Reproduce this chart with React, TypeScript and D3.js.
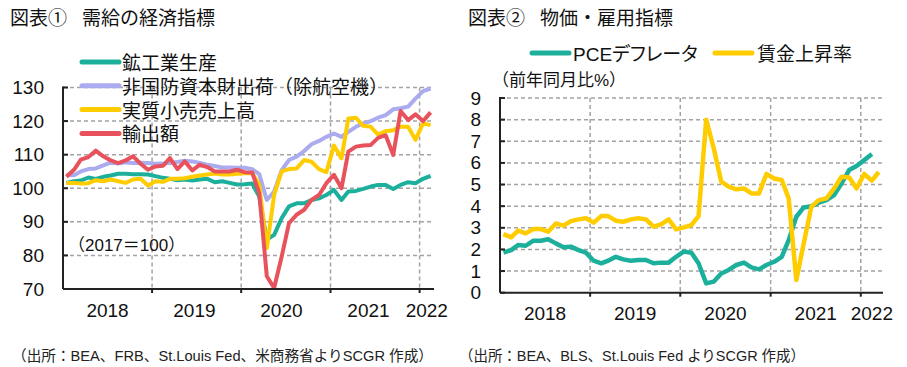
import * as d3 from 'd3'

// monthly series, Jan 2018 onwards
const industrialProduction = [
  101.6, 102.1, 102.3, 103.2, 102.8, 103.4, 103.8, 104.3, 104.3, 104.2, 104.2, 104.1,
  103.6, 103.1, 102.8, 102.4, 102.6, 102.3, 102.6, 102.8, 101.8, 102.1, 101.6, 101.1,
  101.2, 101.4, 97.5, 84.7, 86.1, 91.1, 94.6, 95.5, 95.5, 96.5, 97.0, 98.0,
  99.5, 96.5, 99.0, 99.2, 99.8, 100.5, 101.0, 101.0, 99.8, 101.0, 101.8, 101.5,
  102.8, 103.7
]
const coreCapitalGoods = [
  104.0, 103.9, 105.0, 105.7, 105.9, 106.8, 107.6, 107.4, 107.7, 107.5, 107.6, 107.5,
  107.3, 107.4, 107.5, 107.8, 108.2, 108.0, 107.5, 107.0, 106.6, 106.2, 106.2, 106.1,
  106.1, 105.7, 104.2, 96.5, 99.0, 105.4, 108.4, 109.4, 111.1, 113.1, 114.1, 115.3,
  116.3, 115.3, 116.8, 118.3, 119.3, 120.0, 121.0, 121.8, 123.5, 123.8, 124.3, 126.7,
  128.9, 129.7
]
const realRetailSales = [
  101.6, 101.6, 101.4, 101.5, 102.4, 102.1, 102.6, 102.1, 101.6, 102.6, 102.8, 100.8,
  102.1, 101.9, 102.8, 102.8, 103.0, 103.4, 103.8, 104.1, 104.4, 104.1, 104.1, 104.3,
  104.5, 104.5, 101.0, 82.2, 98.0, 105.0, 105.7, 105.9, 108.4, 107.9, 105.7, 104.8,
  112.7, 108.9, 120.8, 121.0, 118.6, 118.3, 116.0, 117.0, 117.3, 118.3, 118.3, 114.4,
  119.3, 118.8
]
const exportsValue = [
  103.4, 105.5, 108.5, 109.3, 111.2, 109.5, 108.3, 107.5, 108.3, 109.5, 107.3, 105.5,
  106.5, 106.7, 109.0, 105.7, 108.0, 105.3, 107.0, 106.3, 105.0, 105.0, 105.0, 105.5,
  104.8, 104.7, 98.5, 73.8, 70.3, 79.7, 89.6, 92.1, 93.6, 96.5, 98.0, 101.5,
  104.0, 100.0, 110.9, 112.4, 112.7, 112.9, 115.0, 115.8, 109.9, 123.0, 120.3, 122.0,
  120.0, 122.6
]
const pceDeflator = [
  1.85, 1.97, 2.2, 2.17, 2.4, 2.4, 2.47, 2.28, 2.1, 2.13, 1.97, 1.85,
  1.48, 1.36, 1.48, 1.66, 1.54, 1.48, 1.51, 1.51, 1.36, 1.39, 1.39, 1.66,
  1.9, 1.85, 1.36, 0.43, 0.51, 0.89, 1.05, 1.28, 1.39, 1.17, 1.08, 1.28,
  1.43, 1.66, 2.43, 3.51, 3.94, 4.0, 4.16, 4.28, 4.51, 5.05, 5.67, 5.86,
  6.13, 6.41
]
const wageGrowth = [
  2.71, 2.56, 2.87, 2.74, 2.94, 2.94, 2.82, 3.2, 3.1, 3.31, 3.39, 3.44,
  3.24, 3.54, 3.54, 3.33, 3.28, 3.39, 3.44, 3.39, 3.05, 3.16, 3.39, 2.93,
  3.02, 3.12, 3.54, 8.0, 6.7, 5.13, 4.9, 4.78, 4.82, 4.59, 4.59, 5.49,
  5.28, 5.21, 4.36, 0.59, 2.28, 3.98, 4.28, 4.36, 4.82, 5.36, 5.33, 4.82,
  5.49, 5.18, 5.58
]

const years = [2018, 2019, 2020, 2021, 2022]
const leftTicks = [70, 80, 90, 100, 110, 120, 130]
const rightTicks = [0, 1, 2, 3, 4, 5, 6, 7, 8, 9]

const leftSeries = [
  { name: '鉱工業生産', values: industrialProduction, color: '#1cb09c' },
  { name: '非国防資本財出荷（除航空機）', values: coreCapitalGoods, color: '#ababef' },
  { name: '実質小売売上高', values: realRetailSales, color: '#ffcc00' },
  { name: '輸出額', values: exportsValue, color: '#e8525c' }
]
const rightSeries = [
  { name: 'PCEデフレータ', values: pceDeflator, color: '#1cb09c' },
  { name: '賃金上昇率', values: wageGrowth, color: '#ffcc00' }
]

const start = new Date(2018, 0, 1)
const monthDate = (i: number) => d3.timeDay.offset(d3.timeMonth.offset(start, i), 14)

const FONT = "'Liberation Sans', 'Noto Sans CJK JP', sans-serif"
const GRID = '#a3a3a3'

interface PanelProps {
  series: { name: string; values: number[]; color: string }[]
  x0: number
  x1: number
  endDate: Date
  y0: number
  y1: number
  domain: [number, number]
  ticks: number[]
  stroke: number
  labelShift: number
}

function Panel({ series, x0, x1, endDate, y0, y1, domain, ticks, stroke, labelShift }: PanelProps) {
  const x = d3.scaleTime().domain([start, endDate]).range([x0, x1])
  const y = d3.scaleLinear().domain(domain).range([y0, y1])
  const line = d3.line<number>()
    .x((_, i) => x(monthDate(i)))
    .y(d => y(d))
  const yearBounds = years.slice(1).map(yr => new Date(yr, 0, 1))

  return (
    <g>
      {ticks.filter(t => t !== domain[0]).map(t => (
        <line key={'h' + t} x1={x0} x2={x1} y1={y(t)} y2={y(t)}
          stroke={GRID} strokeWidth={1.5} strokeDasharray="4,3" />
      ))}
      {yearBounds.map(d => (
        <line key={'v' + d.getFullYear()} x1={x(d)} x2={x(d)} y1={y1} y2={y0}
          stroke={GRID} strokeWidth={1.5} strokeDasharray="4,3" />
      ))}
      {series.map(s => (
        <path key={s.name} d={line(s.values) || ''} fill="none" stroke={s.color}
          strokeWidth={stroke} strokeLinejoin="round" />
      ))}
      <line x1={x0} x2={x0} y1={y1 - 1} y2={y0} stroke="#222" strokeWidth={2} />
      <line x1={x0} x2={x1} y1={y0} y2={y0} stroke="#222" strokeWidth={2} />
      {ticks.map(t => (
        <g key={'t' + t}>
          <line x1={x0} x2={x0 + 5} y1={y(t)} y2={y(t)} stroke="#222" strokeWidth={2} />
          <text x={x0 - 19} y={y(t)} textAnchor="end" dominantBaseline="central"
            fontSize={19} fill="#111">{t}</text>
        </g>
      ))}
      {yearBounds.map(d => (
        <line key={'xt' + d.getFullYear()} x1={x(d)} x2={x(d)} y1={y0} y2={y0 + 4}
          stroke="#222" strokeWidth={2} />
      ))}
      {years.map(yr => {
        const a = x(new Date(yr, 0, 1))
        const b = Math.min(x(new Date(yr + 1, 0, 1)), x1)
        const mid = (a + b) / 2 + (yr === 2022 ? 0 : labelShift * (yr - 2018))
        return (
          <text key={'y' + yr} x={mid} y={y0 + 21} textAnchor="middle"
            dominantBaseline="central" fontSize={19} fill="#111">{yr}</text>
        )
      })}
    </g>
  )
}

export default function App() {
  return (
    <svg width={907} height={367} style={{ position: 'absolute', left: 0, top: 0, background: '#fff' }}
      fontFamily={FONT}>
      <rect width={907} height={367} fill="#fff" />

      {/* titles */}
      <text x={10} y={18.5} dominantBaseline="central" fontSize={19} fill="#111">図表①</text>
      <text x={82} y={18.5} dominantBaseline="central" fontSize={19} fill="#111">需給の経済指標</text>
      <text x={468} y={18.5} dominantBaseline="central" fontSize={19} fill="#111">図表②</text>
      <text x={540} y={18.5} dominantBaseline="central" fontSize={19} fill="#111">物価・雇用指標</text>

      <Panel series={leftSeries} x0={63} x1={434} endDate={new Date(2022, 2, 1)}
        y0={289} y1={87.5} domain={[70, 130]} ticks={leftTicks} stroke={4} labelShift={-2.2} />
      <Panel series={rightSeries} x0={500} x1={883} endDate={new Date(2022, 3, 1)}
        y0={292.7} y1={98} domain={[0, 9]} ticks={rightTicks} stroke={4.5} labelShift={0} />

      {/* left legend */}
      {leftSeries.map((s, i) => (
        <g key={'lg' + s.name}>
          <line x1={82} x2={119} y1={62 + i * 23.8} y2={62 + i * 23.8} stroke={s.color}
            strokeWidth={5} strokeLinecap="round" />
          <text x={122} y={63.5 + i * 23.8} dominantBaseline="central" fontSize={19} fill="#111">{s.name}</text>
        </g>
      ))}
      <text x={68} y={245} dominantBaseline="central" fontSize={17} fill="#111">（2017＝100）</text>

      {/* right legend */}
      {rightSeries.map((s, i) => (
        <g key={'rg' + s.name}>
          <line x1={532 + i * 183} x2={569 + i * 183} y1={53} y2={53} stroke={s.color}
            strokeWidth={5} strokeLinecap="round" />
          <text x={573 + i * 184} y={54.5} dominantBaseline="central" fontSize={19} fill="#111"
            style={{ fontFeatureSettings: '"palt"' }}>{s.name}</text>
        </g>
      ))}
      <text x={492} y={80} dominantBaseline="central" fontSize={17} fill="#111">（前年同月比%）</text>

      {/* sources */}
      <text x={12} y={355} dominantBaseline="central" fontSize={15} fill="#222"
        textLength={421} lengthAdjust="spacingAndGlyphs">（出所：BEA、FRB、St.Louis Fed、米商務省よりSCGR 作成）</text>
      <text x={459} y={355} dominantBaseline="central" fontSize={15} fill="#222"
        textLength={346} lengthAdjust="spacingAndGlyphs">（出所：BEA、BLS、St.Louis Fed よりSCGR 作成）</text>
    </svg>
  )
}
